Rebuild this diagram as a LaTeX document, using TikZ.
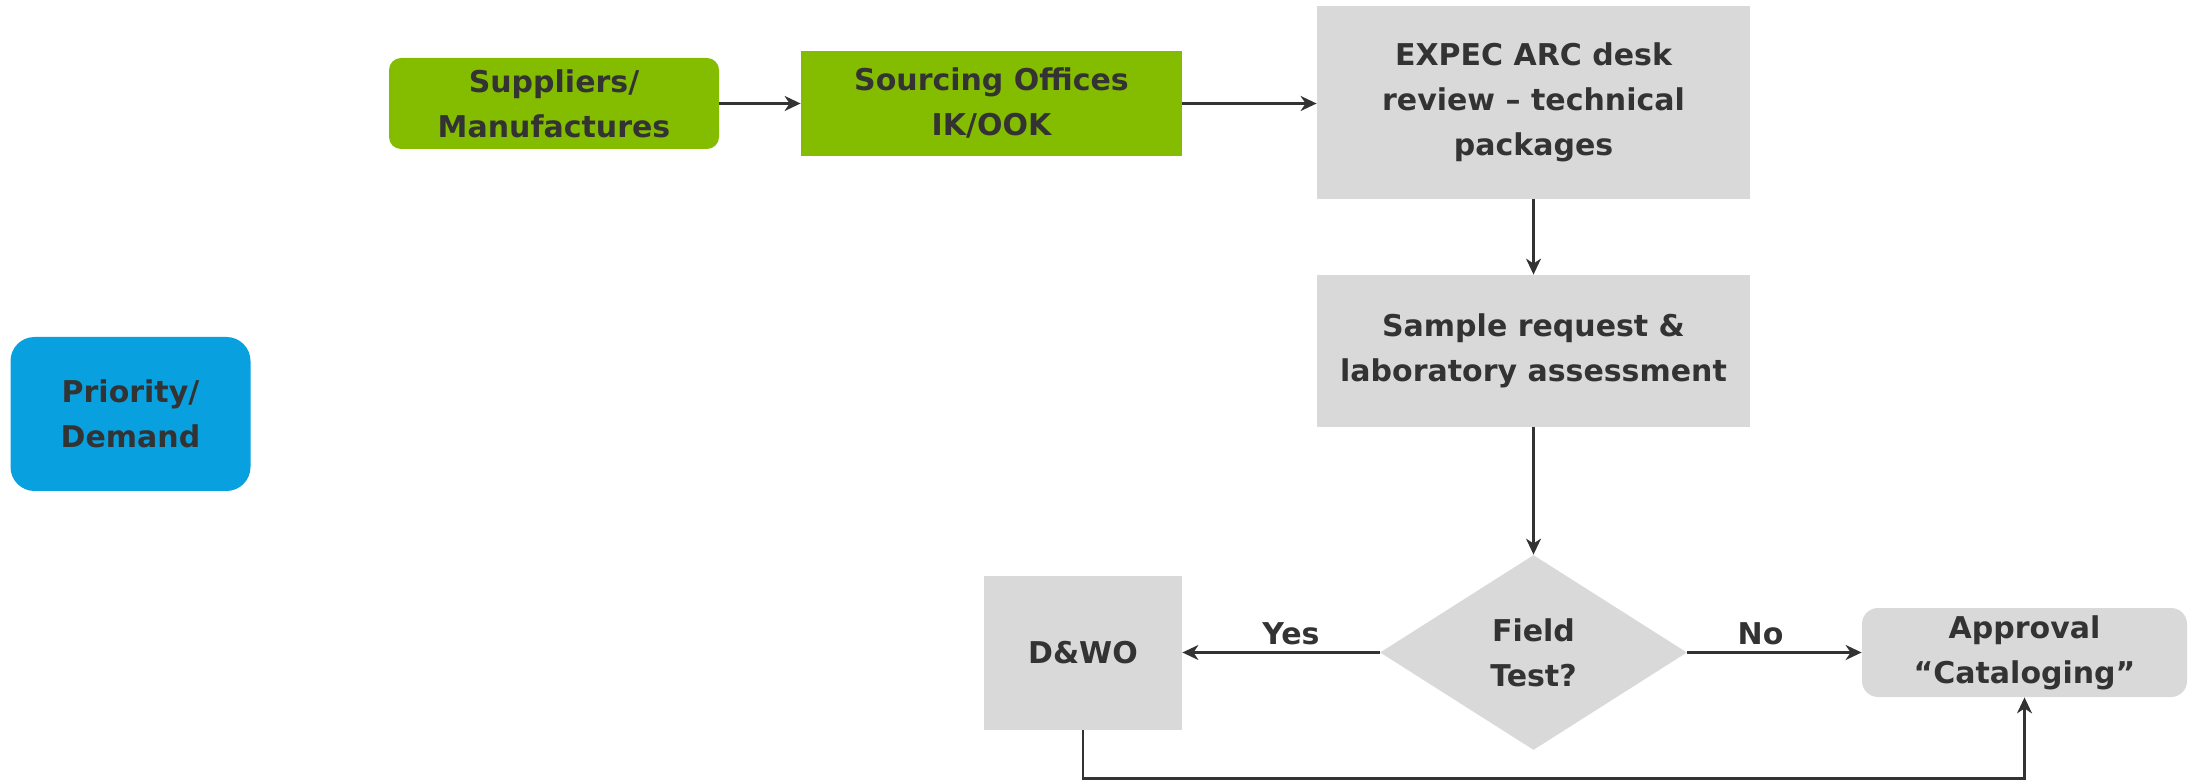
\documentclass[tikz,border=0pt]{standalone}
\usepackage{fontspec}
\setmainfont{DejaVu Sans}
\usetikzlibrary{shapes.geometric,arrows.meta}
\definecolor{boxgreen}{RGB}{132,189,0}
\definecolor{boxblue}{RGB}{8,160,222}
\definecolor{boxgray}{RGB}{217,217,217}
\definecolor{ink}{RGB}{51,51,51}
\begin{document}
\begin{tikzpicture}[x=0.5pt,y=-0.5pt,
    box/.style={inner sep=0pt,align=center,text=ink,font=\fontsize{15}{22.5}\selectfont\bfseries},
    greenbox/.style={box,fill=boxgreen},
    graybox/.style={box,fill=boxgray},
    lab/.style={text=ink,inner sep=3pt,font=\fontsize{15}{18}\selectfont\bfseries},
    link/.style={draw=ink,line width=1.1pt,-{Stealth[length=8pt,width=7.5pt,inset=2.5pt]}}]
  \useasboundingbox (0,0) rectangle (2190,780);
  \node[box,fill=boxblue,rounded corners=12pt,minimum width=120pt,minimum height=77pt] (prio) at (130.5,414) {Priority/\\Demand};
  \node[greenbox,rounded corners=6pt,minimum width=165pt,minimum height=45.5pt] (supp) at (554,103.5) {Suppliers/\\Manufactures};
  \node[greenbox,minimum width=190.5pt,minimum height=52.5pt] (src) at (991.5,103.5) {Sourcing Offices\\IK/OOK};
  \node[graybox,minimum width=216.5pt,minimum height=96.5pt] (expec) at (1533.5,102.5) {EXPEC ARC desk\\review -- technical\\packages};
  \node[graybox,minimum width=216.5pt,minimum height=76pt] (sample) at (1533.5,351) {Sample request \&\\laboratory assessment};
  \node[graybox,diamond,minimum width=153.5pt,minimum height=97.5pt] (field) at (1533.5,652.5) {Field\\Test?};
  \node[graybox,minimum width=99pt,minimum height=77pt] (dwo) at (1083,653) {D\&WO};
  \node[graybox,rounded corners=8pt,minimum width=162.5pt,minimum height=44.5pt] (appr) at (2024.5,652.5) {Approval\\“Cataloging”};

  \draw[link] (supp) -- (src);
  \draw[link] (src.east) -- (src.east -| expec.west);
  \draw[link] (expec) -- (sample);
  \draw[link] (sample) -- (field);
  \draw[link] (field.west) -- node[lab,above,pos=0.45]{Yes} (field.west -| dwo.east);
  \draw[link] (field.east) -- node[lab,above,pos=0.42]{No} (field.east -| appr.west);
  \draw[link] (dwo.south) -- ++(0,48) -| (appr.south);
\end{tikzpicture}
\end{document}
